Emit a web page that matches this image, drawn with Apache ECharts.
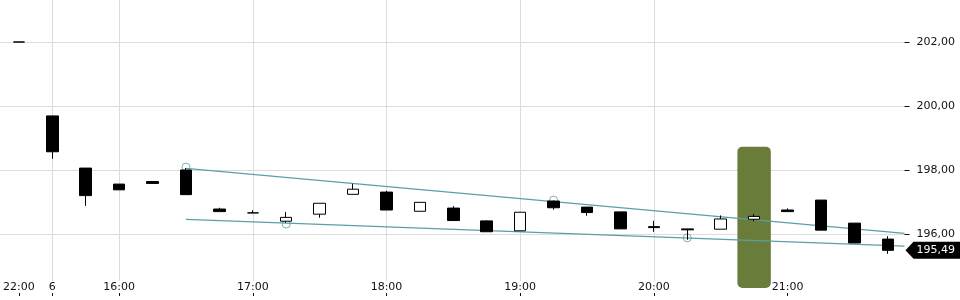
<!DOCTYPE html>
<html><head><meta charset="utf-8">
<script src="https://cdn.jsdelivr.net/npm/echarts@6/dist/echarts.min.js"></script>
<style>html,body{margin:0;padding:0;background:#fff}#c{width:960px;height:300px}</style>
</head><body><div id="c"></div>
<script>
var categories = ['22:00','15:30','15:45','16:00','16:15','16:30','16:45','17:00','17:15','17:30','17:45','18:00','18:15','18:30','18:45','19:00','19:15','19:30','19:45','20:00','20:15','20:30','20:45','21:00','21:15','21:30','21:45'];
var tickLabels = ['22:00','6','','16:00','','','','17:00','','','','18:00','','','','19:00','','','','20:00','','','','21:00','','',''];
var opens  = [202.00,199.69,198.06,197.56,197.64,198.00,196.78,196.66,196.40,196.62,197.24,197.31,196.71,196.81,196.41,196.10,197.03,196.84,196.69,196.23,196.16,196.15,196.46,196.75,197.06,196.34,195.84];
var closes = [202.00,198.57,197.20,197.38,197.58,197.23,196.70,196.66,196.52,196.96,197.40,196.75,196.99,196.42,196.07,196.68,196.82,196.67,196.16,196.20,196.13,196.47,196.55,196.70,196.12,195.72,195.49];
var lows   = [202.00,198.35,196.88,197.38,197.58,197.23,196.70,196.66,196.35,196.51,197.24,196.75,196.71,196.42,196.07,196.10,196.76,196.57,196.16,196.07,195.82,196.15,196.40,196.70,196.12,195.72,195.38];
var highs  = [202.00,199.69,198.06,197.56,197.64,198.06,196.82,196.74,196.69,196.96,197.57,197.35,196.99,196.87,196.43,196.68,197.05,196.84,196.69,196.41,196.16,196.58,196.62,196.80,197.06,196.34,195.93];
var yTickMin = 196, yTickMax = 202, yTickStep = 2;
var upperTrend = [[5, 198.05], [26.5, 196.02]];
var lowerTrend = [[5, 196.46], [26.5, 195.62]];
var anchorPoints = [[5, 198.09], [8, 196.31], [16, 197.06], [20, 195.88]];
var highlight = [[22, 198.73, 194.31]];
var lastPrice = 195.49;

var candleData = opens.map(function(o, i){ return [o, closes[i], lows[i], highs[i]]; });
var xTickIdx = [];
tickLabels.forEach(function(t, i){ if (t !== '') xTickIdx.push(i); });
var showIdx = function(i){ return tickLabels[i] !== ''; };
var fmt = function(v){ return v.toFixed(2).replace('.', ','); };
var TEAL = '#5b9fa6';
var FONT = 'DejaVu Sans';
var XMIN = -0.5, XMAX = categories.length - 0.5;
var YMIN = 194.53125, YMAX = 203.3125;

var chart = echarts.init(document.getElementById('c'));
chart.setOption({
  animation: false,
  backgroundColor: '#fff',
  grid: [
    {left: 0, right: 55.5, top: 0, bottom: 19, containLabel: false},
    {left: 0, right: 55.5, top: 42, height: 192, containLabel: false}
  ],
  xAxis: [{
    type: 'category', data: categories, boundaryGap: true, show: false, gridIndex: 0
  }, {
    type: 'value', min: XMIN, max: XMAX, position: 'bottom', gridIndex: 0,
    axisLine: {show: false, onZero: false}, axisTick: {show: false, customValues: xTickIdx},
    axisLabel: {customValues: xTickIdx, formatter: function(v){ return tickLabels[Math.round(v)]; },
      margin: 1, fontSize: 11, fontFamily: FONT, color: '#111'},
    splitLine: {show: true, showMinLine: false, showMaxLine: false, lineStyle: {color: '#dcdcdc', width: 1}}
  }, {
    type: 'category', data: categories, boundaryGap: true, gridIndex: 0, position: 'bottom', offset: 12,
    axisLine: {show: false, onZero: false},
    axisTick: {show: true, alignWithLabel: true, interval: function(i){ return showIdx(i); }, length: 3, lineStyle: {color: '#111'}},
    axisLabel: {show: false, interval: function(i){ return showIdx(i); }}, splitLine: {show: false}
  }, {
    type: 'value', min: XMIN, max: XMAX, show: false, gridIndex: 1
  }],
  yAxis: [{
    type: 'value', min: YMIN, max: YMAX, show: false, gridIndex: 0, axisLine: {onZero: false}
  }, {
    type: 'value', gridIndex: 1, position: 'right', min: yTickMin, max: yTickMax, interval: yTickStep,
    axisLine: {show: false, onZero: false},
    axisTick: {show: true, length: 5, lineStyle: {color: '#111'}},
    axisLabel: {formatter: fmt, margin: 12, fontSize: 11, fontFamily: FONT, color: '#111'},
    splitLine: {show: true, lineStyle: {color: '#dcdcdc', width: 1}}
  }],
  series: [{
    type: 'custom', xAxisIndex: 0, yAxisIndex: 0, z: 1, clip: false, silent: true,
    data: highlight,
    renderItem: function(params, api){
      var top = api.coord([api.value(0), api.value(1)]);
      var bot = api.coord([api.value(0), api.value(2)]);
      var w = api.size([1, 0])[0];
      return {type: 'rect', shape: {x: top[0] - w / 2, y: top[1], width: w, height: bot[1] - top[1], r: 5},
        style: {fill: '#6a7c3a'}};
    }
  }, {
    type: 'scatter', xAxisIndex: 1, yAxisIndex: 0, z: 2, data: anchorPoints,
    symbol: 'circle', symbolSize: 8,
    itemStyle: {color: 'rgba(0,0,0,0)', borderColor: TEAL, borderWidth: 1}
  }, {
    type: 'line', xAxisIndex: 1, yAxisIndex: 0, z: 2, data: upperTrend, symbol: 'none', clip: false,
    lineStyle: {color: TEAL, width: 1.3}
  }, {
    type: 'line', xAxisIndex: 1, yAxisIndex: 0, z: 2, data: lowerTrend, symbol: 'none', clip: false,
    lineStyle: {color: TEAL, width: 1.3}
  }, {
    type: 'candlestick', xAxisIndex: 0, yAxisIndex: 0, z: 3, barWidth: 12, clip: false,
    data: candleData,
    itemStyle: {color: '#ffffff', color0: '#000000', borderColor: '#000000', borderColor0: '#000000', borderWidth: 1}
  }]
});

var py = chart.convertToPixel({yAxisIndex: 0}, lastPrice);
var px = chart.convertToPixel({xAxisIndex: 1}, XMAX);
var h = 17;
chart.setOption({
  graphic: [{
    type: 'polygon', z: 100,
    shape: {points: [[px + 1, py], [px + 9, py - h / 2], [960, py - h / 2], [960, py + h / 2], [px + 9, py + h / 2]]},
    style: {fill: '#000'}
  }, {
    type: 'text', z: 101, x: px + 12, y: py,
    style: {text: fmt(lastPrice), fill: '#fff', font: '11px "DejaVu Sans"', verticalAlign: 'middle'}
  }]
});
</script>
</body></html>
